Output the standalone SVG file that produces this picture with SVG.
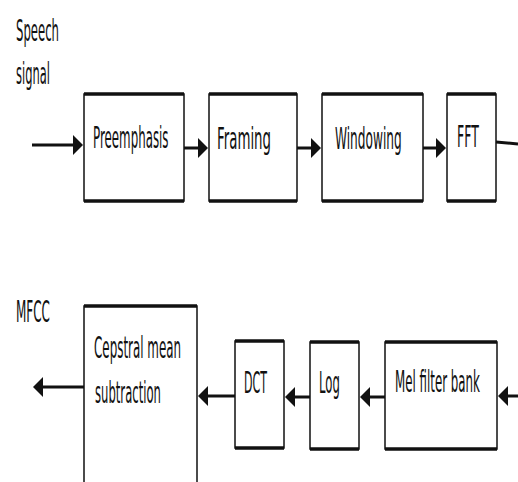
<svg xmlns="http://www.w3.org/2000/svg" width="518" height="482" viewBox="0 0 518 482">
<style>
.box{fill:#fff;stroke:#111;stroke-width:1.5}
.edge{stroke:#111;stroke-width:3.5;fill:none}
.lbl{font-family:"DejaVu Sans",Verdana,sans-serif;font-size:31px;fill:#111}
.conn{stroke:#111;stroke-width:3;fill:none}
</style>
<defs>
<marker id="ah" viewBox="0 0 10 20" markerWidth="10" markerHeight="20" refX="1" refY="10" orient="auto" markerUnits="userSpaceOnUse">
<path d="M0,0 L10,10 L0,20 Z" fill="#111"/>
</marker>
</defs>
<rect width="518" height="482" fill="#fff"/>

<g id="speech-signal">
<text class="lbl" transform="translate(16,41) scale(0.377,1)">Speech</text>
<text class="lbl" transform="translate(16,84) scale(0.371,1)">signal</text>
</g>

<g id="preemphasis">
<rect class="box" x="84" y="94" width="100" height="107"/>
<line class="edge" x1="84" y1="94" x2="184" y2="94"/>
<line class="edge" x1="84" y1="201" x2="184" y2="201"/>
<text class="lbl" transform="translate(93,148) scale(0.382,1)">Preemphasis</text>
</g>

<g id="framing">
<rect class="box" x="209" y="94" width="88" height="107"/>
<line class="edge" x1="209" y1="94" x2="297" y2="94"/>
<line class="edge" x1="209" y1="201" x2="297" y2="201"/>
<text class="lbl" transform="translate(217,149) scale(0.431,1)">Framing</text>
</g>

<g id="windowing">
<rect class="box" x="322" y="94" width="101" height="107"/>
<line class="edge" x1="322" y1="94" x2="423" y2="94"/>
<line class="edge" x1="322" y1="201" x2="423" y2="201"/>
<text class="lbl" transform="translate(335,149) scale(0.392,1)">Windowing</text>
</g>

<g id="fft">
<rect class="box" x="447" y="94" width="49" height="107"/>
<line class="edge" x1="447" y1="94" x2="496" y2="94"/>
<line class="edge" x1="447" y1="201" x2="496" y2="201"/>
<text class="lbl" transform="translate(457,147) scale(0.403,1)">FFT</text>
</g>

<g id="mfcc">
<text class="lbl" transform="translate(16,322) scale(0.387,1)">MFCC</text>
</g>

<g id="cepstral-mean-subtraction">
<path class="box" d="M84,483 L84,306 L197,306 L197,483"/>
<line class="edge" x1="84" y1="306" x2="197" y2="306"/>
<text class="lbl" transform="translate(94,358) scale(0.384,1)">Cepstral mean</text>
<text class="lbl" transform="translate(95,403) scale(0.375,1)">subtraction</text>
</g>

<g id="dct">
<rect class="box" x="235" y="341" width="49" height="107"/>
<line class="edge" x1="235" y1="341" x2="284" y2="341"/>
<line class="edge" x1="235" y1="448" x2="284" y2="448"/>
<text class="lbl" transform="translate(244,393) scale(0.357,1)">DCT</text>
</g>

<g id="log">
<rect class="box" x="310" y="342" width="49" height="107"/>
<line class="edge" x1="310" y1="342" x2="359" y2="342"/>
<line class="edge" x1="310" y1="449" x2="359" y2="449"/>
<text class="lbl" transform="translate(319,393) scale(0.376,1)">Log</text>
</g>

<g id="mel-filter-bank">
<rect class="box" x="385" y="342" width="112" height="107"/>
<line class="edge" x1="385" y1="342" x2="497" y2="342"/>
<line class="edge" x1="385" y1="449" x2="497" y2="449"/>
<text class="lbl" transform="translate(395,392) scale(0.382,1)">Mel filter bank</text>
</g>

<g id="connectors">
<line class="conn" x1="32" y1="145" x2="74" y2="145" marker-end="url(#ah)"/>
<line class="conn" x1="184" y1="148" x2="199" y2="148" marker-end="url(#ah)"/>
<line class="conn" x1="297" y1="148" x2="312" y2="148" marker-end="url(#ah)"/>
<line class="conn" x1="423" y1="148" x2="437" y2="148" marker-end="url(#ah)"/>
<path class="conn" d="M496,142 L518,144"/>
<line class="conn" x1="518" y1="396" x2="507" y2="396" marker-end="url(#ah)"/>
<line class="conn" x1="385" y1="397" x2="369" y2="397" marker-end="url(#ah)"/>
<line class="conn" x1="310" y1="397" x2="294" y2="397" marker-end="url(#ah)"/>
<line class="conn" x1="235" y1="396" x2="207" y2="396" marker-end="url(#ah)"/>
<line class="conn" x1="84" y1="387" x2="42" y2="387" marker-end="url(#ah)"/>
</g>
</svg>
